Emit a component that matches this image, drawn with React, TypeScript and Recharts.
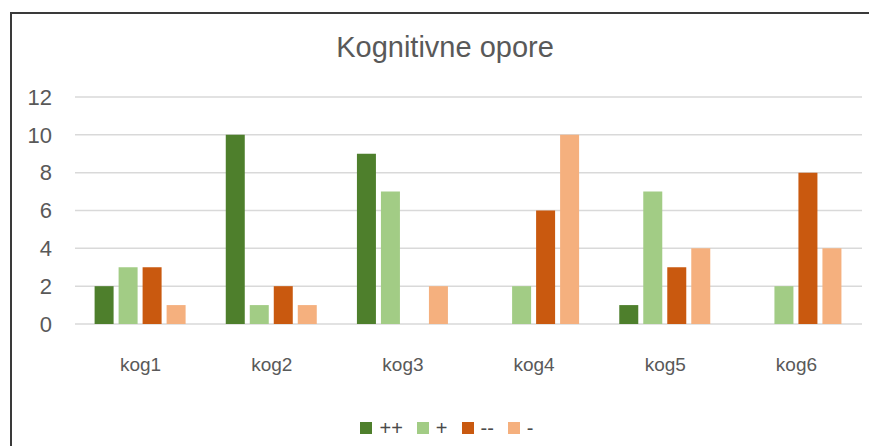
import React from 'react';
import { BarChart, Bar, XAxis, YAxis, CartesianGrid, Legend } from 'recharts';

const categories = ['kog1', 'kog2', 'kog3', 'kog4', 'kog5', 'kog6'];
const seriesNames = ['++', '+', '--', '-'];
const plusPlus = [2, 10, 9, 0, 1, 0];
const plus = [3, 1, 7, 2, 7, 2];
const minusMinus = [3, 2, 0, 6, 3, 8];
const minus = [1, 1, 2, 10, 4, 4];
const yTicks = [0, 2, 4, 6, 8, 10, 12];
const colors = ['#4e7f2c', '#a2cc85', '#c9590f', '#f5b07e'];

const data = categories.map((c, i) => ({
  name: c,
  s0: plusPlus[i],
  s1: plus[i],
  s2: minusMinus[i],
  s3: minus[i],
}));

const FONT = '"Liberation Sans", Arial, sans-serif';

const LegendContent = () => (
  <div style={{ display: 'flex', justifyContent: 'center', alignItems: 'center', height: 26, paddingLeft: 32, fontFamily: FONT, fontSize: 20, color: '#4a4a4a' }}>
    {seriesNames.map((n, i) => (
      <div key={n} style={{ display: 'flex', alignItems: 'center', marginRight: i < 3 ? 14 : 0 }}>
        <div style={{ width: 12, height: 12, background: colors[i], marginRight: 7 }} />
        <span>{n}</span>
      </div>
    ))}
  </div>
);

export default function App() {
  return (
    <div style={{ position: 'absolute', left: 0, top: 0, width: 869, height: 446, background: '#fff', overflow: 'hidden' }}>
      <div style={{ position: 'absolute', left: 10, top: 12, width: 900, height: 500, borderTop: '2px solid #3a3a3a', borderLeft: '2px solid #3a3a3a' }} />
      <div style={{ position: 'absolute', left: 0, width: 890, top: 31, textAlign: 'center', fontFamily: FONT, fontSize: 29, color: '#595959' }}>
        Kognitivne opore
      </div>
      <div style={{ position: 'absolute', left: 0, top: 0 }}>
        <BarChart
          width={869}
          height={446}
          data={data}
          margin={{ top: 97, right: 7, left: 0, bottom: 5 }}
          barGap={5}
          barCategoryGap={19.6}
        >
          <CartesianGrid vertical={false} stroke="#d9d9d9" strokeWidth={1.5} />
          <XAxis
            dataKey="name"
            axisLine={false}
            tickLine={false}
            tickSize={0}
            tickMargin={34}
            height={91}
            tick={{ fontFamily: FONT, fontSize: 19, fill: '#595959' }}
          />
          <YAxis
            domain={[0, 12]}
            ticks={yTicks}
            width={75}
            axisLine={false}
            tickLine={false}
            tickSize={0}
            tickMargin={23}
            tick={{ fontFamily: FONT, fontSize: 22, fill: '#595959' }}
          />
          <Legend verticalAlign="bottom" height={26} content={<LegendContent />} />
          {['s0', 's1', 's2', 's3'].map((k, i) => (
            <Bar key={k} dataKey={k} name={seriesNames[i]} fill={colors[i]} isAnimationActive={false} />
          ))}
        </BarChart>
      </div>
    </div>
  );
}
